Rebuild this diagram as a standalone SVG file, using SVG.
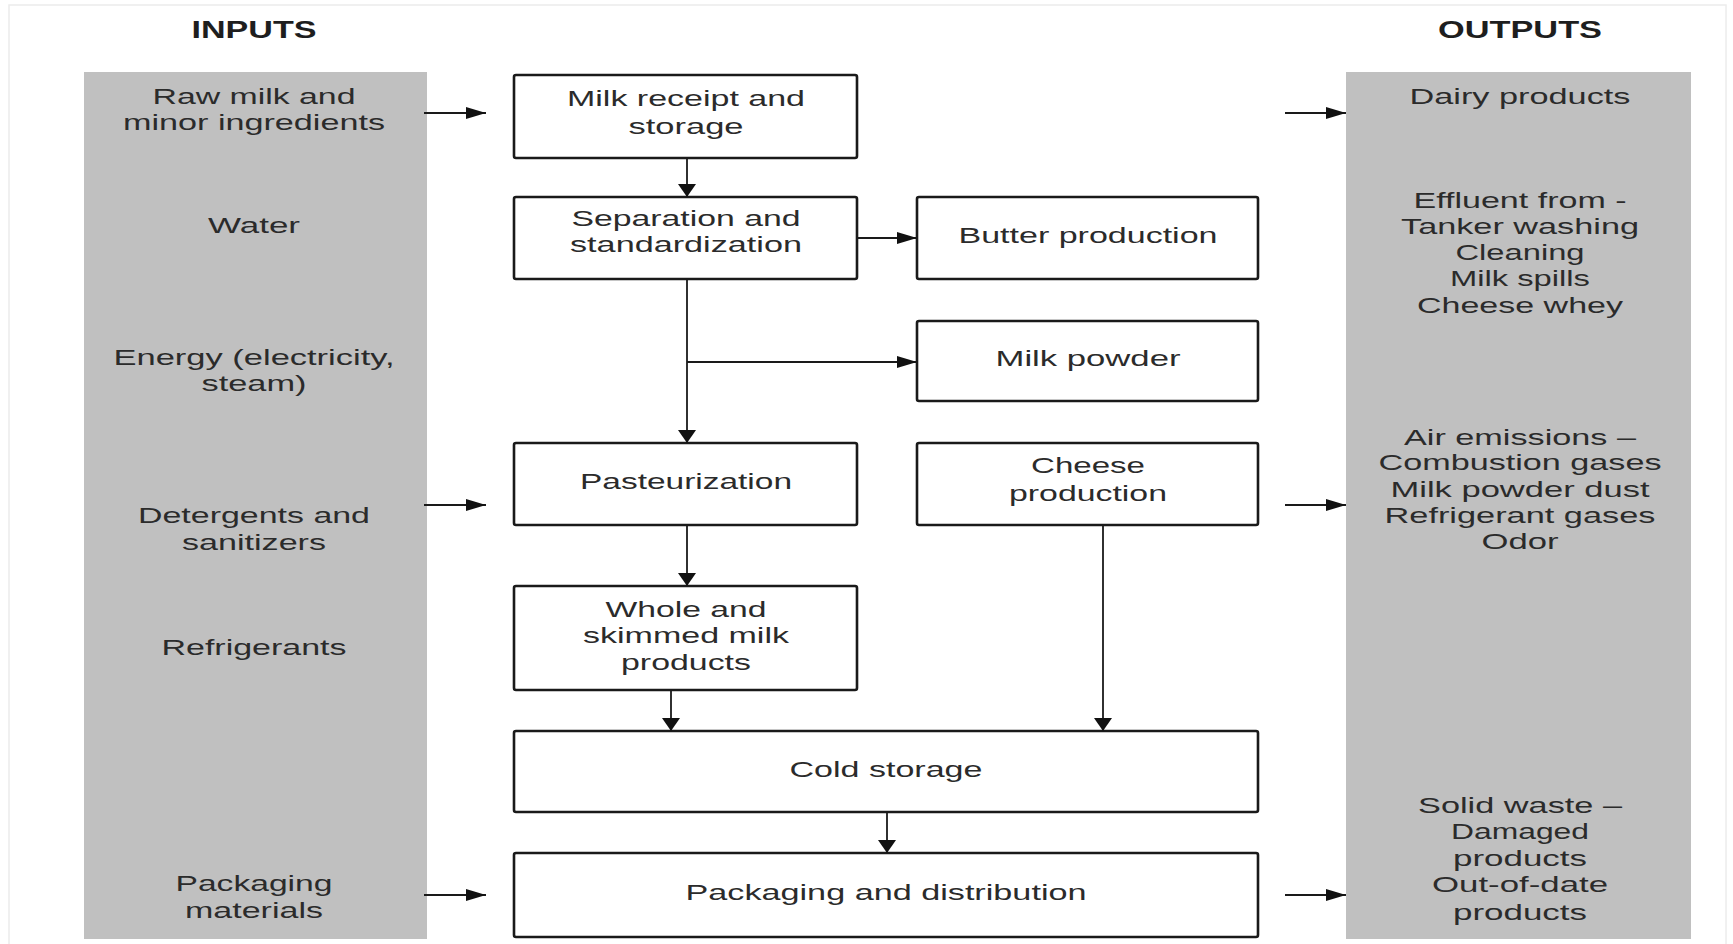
<svg xmlns="http://www.w3.org/2000/svg" width="1733" height="944" viewBox="0 0 1733 944">
<style>
.t{font-family:"Liberation Sans",Arial,sans-serif;font-size:22px;fill:#2b2b2b;text-anchor:middle}
.h{font-family:"Liberation Sans",Arial,sans-serif;font-size:24px;font-weight:bold;fill:#1e1e1e;text-anchor:middle}
.box{fill:#ffffff;stroke:#1a1a1a;stroke-width:2.6}
.panel{fill:#c0c0c0}
.c{fill:none;stroke:#1a1a1a;stroke-width:1.8}
</style>
<defs>
<marker id="ah" markerUnits="userSpaceOnUse" markerWidth="22" markerHeight="14" refX="20" refY="6" orient="auto">
<path d="M0,0 L20,6 L0,12 Z" fill="#111"/>
</marker>
<marker id="av" markerUnits="userSpaceOnUse" markerWidth="16" markerHeight="20" refX="13" refY="9" orient="auto">
<path d="M0,0 L13,9 L0,18 Z" fill="#111"/>
</marker>
</defs>
<rect x="0" y="0" width="1733" height="944" fill="#ffffff"/>
<rect x="9" y="5" width="1717" height="950" fill="none" stroke="#ececec" stroke-width="1.5"/>

<g id="headers">
<text class="h" x="254" y="38" textLength="125" lengthAdjust="spacingAndGlyphs">INPUTS</text>
<text class="h" x="1520" y="38" textLength="164" lengthAdjust="spacingAndGlyphs">OUTPUTS</text>
</g>

<g id="inputs">
<rect class="panel" x="84" y="72" width="343" height="867"/>
<text class="t" x="254" y="104" textLength="203" lengthAdjust="spacingAndGlyphs">Raw milk and</text>
<text class="t" x="254" y="130" textLength="262" lengthAdjust="spacingAndGlyphs">minor ingredients</text>
<text class="t" x="254" y="233" textLength="92" lengthAdjust="spacingAndGlyphs">Water</text>
<text class="t" x="254" y="365" textLength="281" lengthAdjust="spacingAndGlyphs">Energy (electricity,</text>
<text class="t" x="254" y="391" textLength="105" lengthAdjust="spacingAndGlyphs">steam)</text>
<text class="t" x="254" y="523" textLength="232" lengthAdjust="spacingAndGlyphs">Detergents and</text>
<text class="t" x="254" y="550" textLength="144" lengthAdjust="spacingAndGlyphs">sanitizers</text>
<text class="t" x="254" y="655" textLength="185" lengthAdjust="spacingAndGlyphs">Refrigerants</text>
<text class="t" x="254" y="891" textLength="157" lengthAdjust="spacingAndGlyphs">Packaging</text>
<text class="t" x="254" y="918" textLength="138" lengthAdjust="spacingAndGlyphs">materials</text>
</g>

<g id="outputs">
<rect class="panel" x="1346" y="72" width="345" height="867"/>
<text class="t" x="1520" y="104" textLength="221" lengthAdjust="spacingAndGlyphs">Dairy products</text>
<text class="t" x="1520" y="208" textLength="213" lengthAdjust="spacingAndGlyphs">Effluent from -</text>
<text class="t" x="1520" y="234" textLength="238" lengthAdjust="spacingAndGlyphs">Tanker washing</text>
<text class="t" x="1520" y="260" textLength="129" lengthAdjust="spacingAndGlyphs">Cleaning</text>
<text class="t" x="1520" y="286" textLength="140" lengthAdjust="spacingAndGlyphs">Milk spills</text>
<text class="t" x="1520" y="313" textLength="206" lengthAdjust="spacingAndGlyphs">Cheese whey</text>
<text class="t" x="1520" y="445" textLength="232" lengthAdjust="spacingAndGlyphs">Air emissions –</text>
<text class="t" x="1520" y="470" textLength="283" lengthAdjust="spacingAndGlyphs">Combustion gases</text>
<text class="t" x="1520" y="497" textLength="259" lengthAdjust="spacingAndGlyphs">Milk powder dust</text>
<text class="t" x="1520" y="523" textLength="271" lengthAdjust="spacingAndGlyphs">Refrigerant gases</text>
<text class="t" x="1520" y="549" textLength="77" lengthAdjust="spacingAndGlyphs">Odor</text>
<text class="t" x="1520" y="813" textLength="204" lengthAdjust="spacingAndGlyphs">Solid waste –</text>
<text class="t" x="1520" y="839" textLength="138" lengthAdjust="spacingAndGlyphs">Damaged</text>
<text class="t" x="1520" y="866" textLength="134" lengthAdjust="spacingAndGlyphs">products</text>
<text class="t" x="1520" y="892" textLength="176" lengthAdjust="spacingAndGlyphs">Out-of-date</text>
<text class="t" x="1520" y="920" textLength="134" lengthAdjust="spacingAndGlyphs">products</text>
</g>

<g id="milk-receipt">
<rect class="box" x="514" y="75" width="343" height="83" rx="2"/>
<text class="t" x="686" y="106" textLength="238" lengthAdjust="spacingAndGlyphs">Milk receipt and</text>
<text class="t" x="686" y="134" textLength="115" lengthAdjust="spacingAndGlyphs">storage</text>
</g>
<g id="separation">
<rect class="box" x="514" y="197" width="343" height="82" rx="2"/>
<text class="t" x="686" y="226" textLength="229" lengthAdjust="spacingAndGlyphs">Separation and</text>
<text class="t" x="686" y="252" textLength="232" lengthAdjust="spacingAndGlyphs">standardization</text>
</g>
<g id="butter">
<rect class="box" x="917" y="197" width="341" height="82" rx="2"/>
<text class="t" x="1088" y="243" textLength="259" lengthAdjust="spacingAndGlyphs">Butter production</text>
</g>
<g id="milk-powder">
<rect class="box" x="917" y="321" width="341" height="80" rx="2"/>
<text class="t" x="1088" y="366" textLength="185" lengthAdjust="spacingAndGlyphs">Milk powder</text>
</g>
<g id="pasteurization">
<rect class="box" x="514" y="443" width="343" height="82" rx="2"/>
<text class="t" x="686" y="489" textLength="212" lengthAdjust="spacingAndGlyphs">Pasteurization</text>
</g>
<g id="cheese">
<rect class="box" x="917" y="443" width="341" height="82" rx="2"/>
<text class="t" x="1088" y="473" textLength="114" lengthAdjust="spacingAndGlyphs">Cheese</text>
<text class="t" x="1088" y="501" textLength="158" lengthAdjust="spacingAndGlyphs">production</text>
</g>
<g id="whole-skimmed">
<rect class="box" x="514" y="586" width="343" height="104" rx="2"/>
<text class="t" x="686" y="617" textLength="161" lengthAdjust="spacingAndGlyphs">Whole and</text>
<text class="t" x="686" y="643" textLength="206" lengthAdjust="spacingAndGlyphs">skimmed milk</text>
<text class="t" x="686" y="670" textLength="130" lengthAdjust="spacingAndGlyphs">products</text>
</g>
<g id="cold-storage">
<rect class="box" x="514" y="731" width="744" height="81" rx="2"/>
<text class="t" x="886" y="777" textLength="193" lengthAdjust="spacingAndGlyphs">Cold storage</text>
</g>
<g id="packaging">
<rect class="box" x="514" y="853" width="744" height="84" rx="2"/>
<text class="t" x="886" y="900" textLength="401" lengthAdjust="spacingAndGlyphs">Packaging and distribution</text>
</g>

<g id="connectors">
<line class="c" x1="424" y1="113" x2="486" y2="113" marker-end="url(#ah)"/>
<line class="c" x1="424" y1="505" x2="486" y2="505" marker-end="url(#ah)"/>
<line class="c" x1="424" y1="895" x2="486" y2="895" marker-end="url(#ah)"/>
<line class="c" x1="1285" y1="113" x2="1346" y2="113" marker-end="url(#ah)"/>
<line class="c" x1="1285" y1="505" x2="1346" y2="505" marker-end="url(#ah)"/>
<line class="c" x1="1285" y1="895" x2="1346" y2="895" marker-end="url(#ah)"/>
<line class="c" x1="687" y1="158" x2="687" y2="197" marker-end="url(#av)"/>
<line class="c" x1="857" y1="238" x2="917" y2="238" marker-end="url(#ah)"/>
<line class="c" x1="687" y1="279" x2="687" y2="443" marker-end="url(#av)"/>
<line class="c" x1="687" y1="362" x2="917" y2="362" marker-end="url(#ah)"/>
<line class="c" x1="687" y1="525" x2="687" y2="586" marker-end="url(#av)"/>
<line class="c" x1="671" y1="690" x2="671" y2="731" marker-end="url(#av)"/>
<line class="c" x1="1103" y1="525" x2="1103" y2="731" marker-end="url(#av)"/>
<line class="c" x1="887" y1="812" x2="887" y2="853" marker-end="url(#av)"/>
</g>
</svg>
